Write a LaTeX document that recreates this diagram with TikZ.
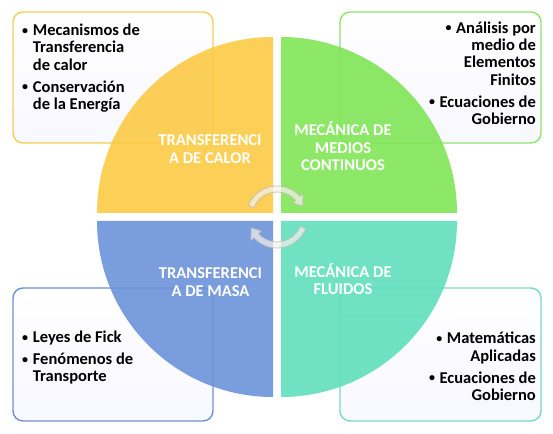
\documentclass[tikz,border=0pt]{standalone}
\usepackage{fontspec}
\setmainfont{Carlito}
\definecolor{qyel}{HTML}{FCCA45}
\definecolor{qgrn}{HTML}{81E557}
\definecolor{qblu}{HTML}{6B92D9}
\definecolor{qtea}{HTML}{60DFBD}
\definecolor{byel}{HTML}{F3CF52}
\definecolor{bgrn}{HTML}{8DE46A}
\definecolor{bblu}{HTML}{6F91D3}
\definecolor{btea}{HTML}{74DCC1}
\definecolor{arrline}{HTML}{C2BDB3}
\definecolor{arrfill}{HTML}{F4F2EE}
\newcommand\smbul{\raisebox{1.4bp}{\fontsize{12bp}{12bp}\selectfont •}}
\newcommand\bul{\makebox[11.7bp][l]{\kern1bp\smbul}}
\newcommand\ind{\hbox to 11.7bp{}}
\newcommand\rbul{\smbul\kern4.5bp}
\newcommand\gap{\noalign{\vskip4.7bp}}
\newcommand\leftlist[1]{\vtop{\baselineskip=17.3bp\lineskiplimit=-30bp\halign{##\hfil\cr #1\crcr}}}
\newcommand\rightlist[1]{\vtop{\baselineskip=17.3bp\lineskiplimit=-30bp\halign{\hfil##\cr #1\crcr}}}
\newcommand\midlist[1]{\vtop{\baselineskip=17.3bp\lineskiplimit=-30bp\halign{\hfil##\hfil\cr #1\crcr}}}
\tikzset{
  infobox/.style={rounded corners=10bp, line width=1.4bp, top color=white, bottom color=black!3!blue!3!white},
  quad/.style={fill opacity=0.9},
  txt/.style={inner sep=0pt, font=\fontsize{16.5bp}{17.3bp}\selectfont\bfseries, text=black},
  lbl/.style={inner sep=0pt, font=\fontsize{16.5bp}{17.3bp}\selectfont\bfseries, text=white, anchor=base},
  cyc/.style={fill=arrfill, fill opacity=0.7, draw=arrline, draw opacity=0.9, line width=0.8bp, line join=round}
}
\begin{document}
\begin{tikzpicture}[x=1bp,y=1bp]
\useasboundingbox (0,0) rectangle (553,434);
% info boxes
\draw[infobox, draw=byel] (13,291) rectangle (213,422);
\draw[infobox, draw=bgrn] (340,291) rectangle (541,422);
\draw[infobox, draw=bblu] (13,13) rectangle (213,146);
\draw[infobox, draw=btea] (340,13) rectangle (541,146);
% quadrants
\path[quad, fill=qyel] (273,221) -- (273,397) arc[start angle=90, end angle=180, radius=176bp] -- cycle;
\path[quad, fill=qgrn] (281,221) -- (457,221) arc[start angle=0, end angle=90, radius=176bp] -- cycle;
\path[quad, fill=qblu] (273,213) -- (97,213) arc[start angle=180, end angle=270, radius=176bp] -- cycle;
\path[quad, fill=qtea] (281,213) -- (281,37) arc[start angle=270, end angle=360, radius=176bp] -- cycle;
% box texts
\node[txt, anchor=base west] (tcalor) at (21,398.3) {\leftlist{\bul Mecanismos de\cr\ind Transferencia\cr\ind de calor\cr\gap\bul Conservación\cr\ind de la Energía}};
\node[txt, anchor=base east] (tmedios) at (536,400.7) {\rightlist{\rbul Análisis por\cr medio de\cr Elementos\cr Finitos\cr\gap\rbul Ecuaciones de\cr Gobierno}};
\node[txt, anchor=base west] (tmasa) at (21,91.3) {\leftlist{\bul Leyes de Fick\cr\gap\bul Fenómenos de\cr\ind Transporte}};
\node[txt, anchor=base east] (tfluidos) at (536,90) {\rightlist{\rbul Matemáticas\cr Aplicadas\cr\gap\rbul Ecuaciones de\cr Gobierno}};
% quadrant labels
\node[lbl] (lcalor) at (210,288) {\midlist{TRANSFERENCI\cr A DE CALOR}};
\node[lbl] (lmedios) at (343,298) {\midlist{MECÁNICA DE\cr MEDIOS\cr CONTINUOS}};
\node[lbl] (lmasa) at (210.5,155) {\midlist{TRANSFERENCI\cr A DE MASA}};
\node[lbl] (lfluidos) at (343,156.7) {\midlist{MECÁNICA DE\cr FLUIDOS}};
% cycle arrows
\coordinate (ctr) at (277,217);
\begin{scope}[shift={(ctr)}]
\path[cyc] (158:31bp) arc[start angle=158, end angle=42, radius=31bp] -- (42:35bp) -- (23:28bp) -- (42:21bp) -- (42:25bp) arc[start angle=42, end angle=158, radius=25bp] -- cycle;
\path[cyc] (-22:31bp) arc[start angle=-22, end angle=-138, radius=31bp] -- (-138:35bp) -- (-157:28bp) -- (-138:21bp) -- (-138:25bp) arc[start angle=-138, end angle=-22, radius=25bp] -- cycle;
\end{scope}
\end{tikzpicture}
\end{document}
